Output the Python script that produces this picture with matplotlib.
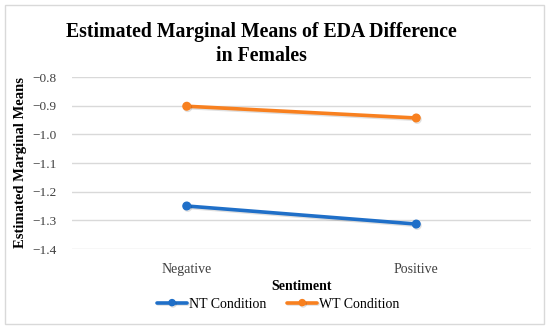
import matplotlib.pyplot as plt
import matplotlib.patheffects as pe
from matplotlib.patches import Rectangle

sentiment = ["Negative", "Positive"]
nt_condition = [-1.25, -1.313]
wt_condition = [-0.902, -0.943]
y_ticks = [-1.4, -1.3, -1.2, -1.1, -1.0, -0.9, -0.8]

plt.rcParams['font.family'] = ['Liberation Serif', 'DejaVu Serif']

fig = plt.figure(figsize=(5.5, 3.29), dpi=100)
fig.patches.append(Rectangle((5 / 550, 5 / 329), 539 / 550, 319 / 329,
                             transform=fig.transFigure, fill=False,
                             edgecolor='#d9d9d9', linewidth=1))
ax = fig.add_axes([72 / 550, 1 - 249 / 329, 459 / 550, 172 / 329])

shadow = [pe.SimpleLineShadow(offset=(0.7, -1.0), alpha=0.12), pe.Normal()]
x = range(len(sentiment))
ax.plot(x, nt_condition, color='#1f6fc8', linewidth=2.6, marker='o',
        markersize=5.5, label='NT Condition', path_effects=shadow,
        solid_capstyle='round')
ax.plot(x, wt_condition, color='#f8801f', linewidth=2.6, marker='o',
        markersize=5.5, label='WT Condition', path_effects=shadow,
        solid_capstyle='round')

ax.set_xlim(-0.5, 1.5)
ax.set_ylim(-1.4, -0.8)
ax.set_xticks(list(x))
ax.set_xticklabels(sentiment, fontsize=10, color='#404040')
ax.set_yticks(y_ticks)
ax.set_yticklabels(["\u2212%.1f" % abs(v) for v in y_ticks], fontsize=9.5,
                   color='#404040')
ax.tick_params(length=0)
ax.tick_params(axis='x', pad=10)
ax.tick_params(axis='y', pad=11)
ax.grid(axis='y', color='#d9d9d9', linewidth=1)
ax.set_axisbelow(True)
for s in ax.spines.values():
    s.set_visible(False)

ax.set_xlabel("Sentiment", fontsize=10, fontweight='bold', labelpad=3)
ax.set_ylabel("Estimated Marginal Means", fontsize=10.5, fontweight='bold',
              labelpad=4)
fig.text(261 / 550, 1 - 44 / 329, "Estimated Marginal Means of EDA Difference\nin Females",
         ha='center', va='center', fontsize=14.2, fontweight='bold',
         linespacing=1.25)

fig.legend(loc='center', bbox_to_anchor=(278 / 550, 1 - 304 / 329), ncol=2,
           frameon=False, fontsize=10, handlelength=2.2, handletextpad=0.1,
           columnspacing=1.5, borderaxespad=0, markerscale=0.8)

fig.savefig("out.png", dpi=100)
